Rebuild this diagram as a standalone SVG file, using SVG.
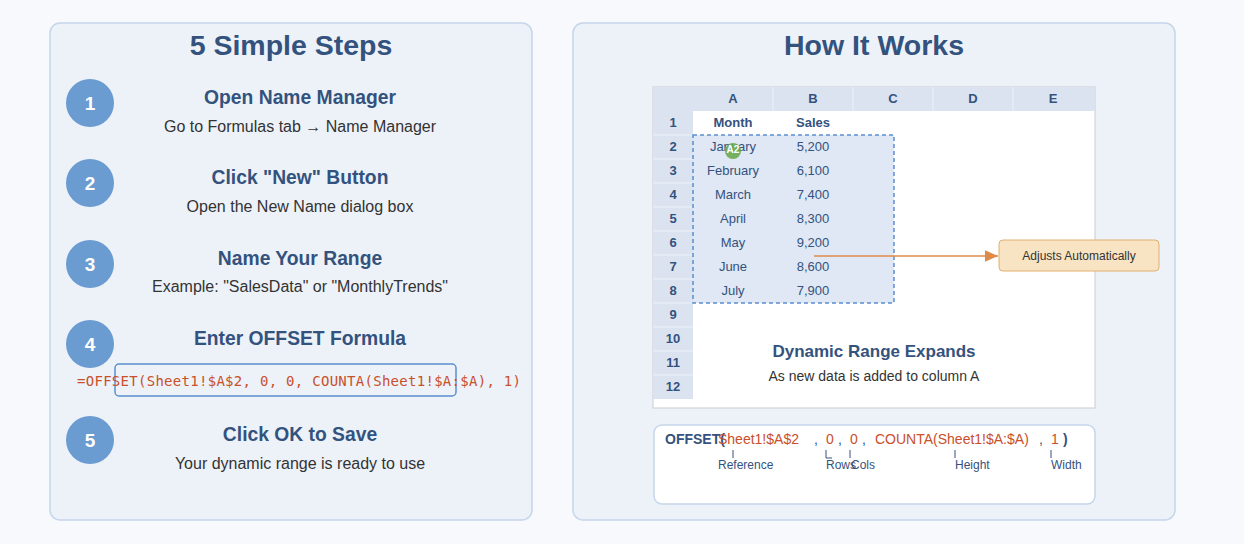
<svg xmlns="http://www.w3.org/2000/svg" width="1244" height="544" viewBox="0 0 1244 544">
<style>
.panel{fill:#edf2f9;stroke:#c5d5ea;stroke-width:1.5}
.title{font:bold 28.5px "Liberation Sans",Arial,sans-serif;fill:#34527e;text-anchor:middle}
.circ{fill:#6a9bd1}
.num{font:bold 19px "Liberation Sans",Arial,sans-serif;fill:#fff;text-anchor:middle}
.st{font:bold 19.3px "Liberation Sans",Arial,sans-serif;fill:#34527e;text-anchor:middle}
.sd{font:16px "Liberation Sans",Arial,sans-serif;fill:#333;text-anchor:middle}
.hd{font:bold 13px "Liberation Sans",Arial,sans-serif;fill:#34527e;text-anchor:middle}
.cell{font:13px "Liberation Sans",Arial,sans-serif;fill:#34527e;text-anchor:middle}
.red{fill:#c9502a}
.lbl{font:12px "Liberation Sans",Arial,sans-serif;fill:#34527e}
</style>
<defs><marker id="ar" markerWidth="10" markerHeight="10" refX="9" refY="5" orient="auto"><path d="M0,1 L9,5 L0,9z" fill="#e08a4a"/></marker></defs>
<rect width="1244" height="544" fill="#f7f9fc"/>
<g id="left-panel">
<rect class="panel" x="50" y="23" width="482" height="497" rx="10"/>
<text class="title" x="291" y="55">5 Simple Steps</text>
</g>
<g id="step1"><circle class="circ" cx="90" cy="103" r="24"/><text class="num" x="90" y="110">1</text><text class="st" x="300" y="104">Open Name Manager</text><text class="sd" x="300" y="132">Go to Formulas tab → Name Manager</text></g>
<g id="step2"><circle class="circ" cx="90" cy="183" r="24"/><text class="num" x="90" y="190">2</text><text class="st" x="300" y="184">Click "New" Button</text><text class="sd" x="300" y="212">Open the New Name dialog box</text></g>
<g id="step3"><circle class="circ" cx="90" cy="264" r="24"/><text class="num" x="90" y="271">3</text><text class="st" x="300" y="265">Name Your Range</text><text class="sd" x="300" y="292">Example: "SalesData" or "MonthlyTrends"</text></g>
<g id="step4"><circle class="circ" cx="90" cy="344" r="24"/><text class="num" x="90" y="351">4</text><text class="st" x="300" y="345">Enter OFFSET Formula</text>
<rect x="115" y="364" width="341" height="32" rx="4" fill="none" stroke="#5b8fd0" stroke-width="1.5"/>
<text x="77" y="386" textLength="444" lengthAdjust="spacing" style="font:14px 'DejaVu Sans Mono',monospace;fill:#c9502a">=OFFSET(Sheet1!$A$2, 0, 0, COUNTA(Sheet1!$A:$A), 1)</text></g>
<g id="step5"><circle class="circ" cx="90" cy="440" r="24"/><text class="num" x="90" y="447">5</text><text class="st" x="300" y="441">Click OK to Save</text><text class="sd" x="300" y="469">Your dynamic range is ready to use</text></g>
<g id="right-panel">
<rect class="panel" x="573" y="23" width="602" height="497" rx="10"/>
<text class="title" x="874" y="55">How It Works</text>
</g>
<g id="sheet">
<rect x="653" y="87" width="442" height="321" fill="#fff" stroke="#c8ccd2"/>
<rect x="653" y="87" width="442" height="24" fill="#dbe3f0"/>
<rect x="653" y="87" width="40" height="312" fill="#dbe3f0"/>
<g stroke="#eef2f8" stroke-width="1">
<line x1="773" y1="87" x2="773" y2="111"/><line x1="853" y1="87" x2="853" y2="111"/><line x1="933" y1="87" x2="933" y2="111"/><line x1="1013" y1="87" x2="1013" y2="111"/>
<line x1="653" y1="135" x2="693" y2="135"/><line x1="653" y1="159" x2="693" y2="159"/><line x1="653" y1="183" x2="693" y2="183"/><line x1="653" y1="207" x2="693" y2="207"/><line x1="653" y1="231" x2="693" y2="231"/><line x1="653" y1="255" x2="693" y2="255"/><line x1="653" y1="279" x2="693" y2="279"/><line x1="653" y1="303" x2="693" y2="303"/><line x1="653" y1="327" x2="693" y2="327"/><line x1="653" y1="351" x2="693" y2="351"/><line x1="653" y1="375" x2="693" y2="375"/>
</g>
<text class="hd" x="733" y="103">A</text><text class="hd" x="813" y="103">B</text><text class="hd" x="893" y="103">C</text><text class="hd" x="973" y="103">D</text><text class="hd" x="1053" y="103">E</text>
<text class="hd" x="673" y="127">1</text><text class="hd" x="673" y="151">2</text><text class="hd" x="673" y="175">3</text><text class="hd" x="673" y="199">4</text><text class="hd" x="673" y="223">5</text><text class="hd" x="673" y="247">6</text><text class="hd" x="673" y="271">7</text><text class="hd" x="673" y="295">8</text><text class="hd" x="673" y="319">9</text><text class="hd" x="673" y="343">10</text><text class="hd" x="673" y="367">11</text><text class="hd" x="673" y="391">12</text>
<rect x="693" y="135" width="201" height="168" fill="#dfe8f4" stroke="#5b8fd0" stroke-width="1.5" stroke-dasharray="4,3"/>
<text class="hd" x="733" y="127">Month</text><text class="hd" x="813" y="127">Sales</text>
<text class="cell" x="733" y="151">January</text><text class="cell" x="813" y="151">5,200</text>
<text class="cell" x="733" y="175">February</text><text class="cell" x="813" y="175">6,100</text>
<text class="cell" x="733" y="199">March</text><text class="cell" x="813" y="199">7,400</text>
<text class="cell" x="733" y="223">April</text><text class="cell" x="813" y="223">8,300</text>
<text class="cell" x="733" y="247">May</text><text class="cell" x="813" y="247">9,200</text>
<text class="cell" x="733" y="271">June</text><text class="cell" x="813" y="271">8,600</text>
<text class="cell" x="733" y="295">July</text><text class="cell" x="813" y="295">7,900</text>
<circle cx="733" cy="151" r="8" fill="#6aa84f" opacity="0.9"/><text x="733" y="153" style="font:bold 10px 'Liberation Sans',Arial,sans-serif;fill:#fff;text-anchor:middle">A2</text>
<text x="874" y="357" style="font:bold 17px 'Liberation Sans',Arial,sans-serif;fill:#34527e;text-anchor:middle">Dynamic Range Expands</text>
<text x="874" y="381" style="font:14px 'Liberation Sans',Arial,sans-serif;fill:#333;text-anchor:middle">As new data is added to column A</text>
</g>
<g id="connectors"><line x1="814" y1="256" x2="998" y2="256" stroke="#e08a4a" stroke-width="1.5" marker-end="url(#ar)"/></g>
<g id="callout"><rect x="999" y="240" width="160" height="31" rx="4" fill="#f8e3c2" stroke="#e0b070"/><text x="1079" y="260" style="font:12px 'Liberation Sans',Arial,sans-serif;fill:#333;text-anchor:middle">Adjusts Automatically</text></g>
<g id="formula-breakdown">
<rect x="654" y="425" width="441" height="79" rx="8" fill="#fff" stroke="#c5d5ea" stroke-width="1.5"/>
<g style="font:14px 'Liberation Sans',Arial,sans-serif">
<text x="665" y="444" style="font-weight:bold;fill:#34527e">OFFSET(</text>
<text x="718" y="444" class="red">Sheet1!$A$2</text>
<text x="814" y="444" fill="#34527e">,</text><text x="826" y="444" class="red">0</text>
<text x="838" y="444" fill="#34527e">,</text><text x="850" y="444" class="red">0</text>
<text x="862" y="444" fill="#34527e">,</text><text x="875" y="444" class="red">COUNTA(Sheet1!$A:$A)</text>
<text x="1039" y="444" fill="#34527e">,</text><text x="1051" y="444" class="red">1</text>
<text x="1063" y="444" style="font-weight:bold;fill:#34527e">)</text>
</g>
<g stroke="#34527e" fill="none"><path d="M733,450v8"/><path d="M826,450v8h6"/><path d="M850,450v8"/><path d="M955,450v8"/><path d="M1051,450v8"/></g>
<text class="lbl" x="718" y="469">Reference</text><text class="lbl" x="826" y="469">Rows</text><text class="lbl" x="851" y="469">Cols</text><text class="lbl" x="955" y="469">Height</text><text class="lbl" x="1051" y="469">Width</text>
</g>
</svg>
